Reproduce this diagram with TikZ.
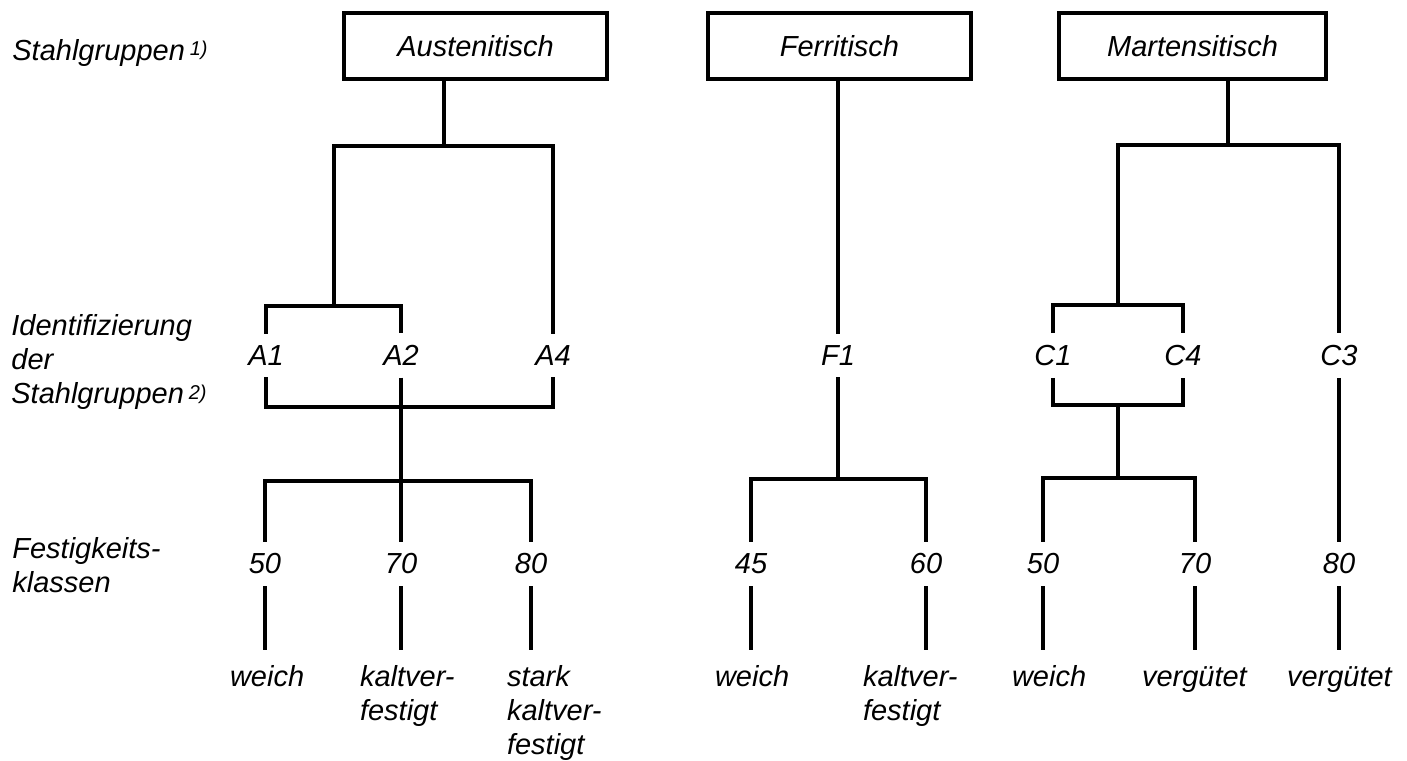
\documentclass[tikz,border=0pt]{standalone}
\usepackage{fontspec}
\setmainfont{Liberation Sans}
\begin{document}
\begin{tikzpicture}[x=0.5pt,y=-0.5pt,
  every node/.style={font=\fontsize{14.5}{17}\selectfont\itshape},
  ln/.style={line width=1.7pt},
  grp/.style={draw, line width=1.7pt, minimum width=131.5pt, minimum height=33pt, inner sep=0pt},
  idnode/.style={inner sep=0pt, outer xsep=0pt, outer ysep=6pt},
  lbl/.style={inner sep=0pt, outer xsep=0pt, outer ysep=7.5pt, anchor=north west, align=left},
  side/.style={inner sep=0pt, align=left}]
\useasboundingbox (0,0) rectangle (1407,760);

% group boxes
\node[grp] (aus) at (475.5,46) {Austenitisch};
\node[grp] (fer) at (839.5,46) {Ferritisch};
\node[grp, minimum width=133.5pt] (mar) at (1192.5,46) {Martensitisch};

% side labels
\node[side, anchor=base west] (s1) at (12,60) {Stahlgruppen\,{\fontsize{10}{12}\selectfont\raisebox{2pt}{1)}}};
\node[side, anchor=north west] (s2) at (11,314) {Identifizierung\\der\\Stahlgruppen\,{\fontsize{10}{12}\selectfont\raisebox{2pt}{2)}}};
\node[side, anchor=north west] (s3) at (12,537) {Festigkeits-\\klassen};

% identifiers
\node[idnode] (A1) at (266,355.5) {A1};
\node[idnode] (A2) at (401,355.5) {A2};
\node[idnode] (A4) at (553,355.5) {A4};
\node[idnode] (F1) at (838,355.5) {F1};
\node[idnode] (C1) at (1053,355.5) {C1};
\node[idnode] (C4) at (1183,355.5) {C4};
\node[idnode] (C3) at (1339,355.5) {C3};

% strength classes
\node[idnode] (a50) at (265,564) {50};
\node[idnode] (a70) at (401,564) {70};
\node[idnode] (a80) at (531,564) {80};
\node[idnode] (f45) at (751,564) {45};
\node[idnode] (f60) at (926,564) {60};
\node[idnode] (m50) at (1043,564) {50};
\node[idnode] (m70) at (1195,564) {70};
\node[idnode] (m80) at (1339,564) {80};

% state labels
\node[lbl] (aw) at (230,650) {weich};
\node[lbl] (ak) at (360,650) {kaltver-\\festigt};
\node[lbl] (as) at (507,650) {stark\\kaltver-\\festigt};
\node[lbl] (fw) at (715,650) {weich};
\node[lbl] (fk) at (863,650) {kaltver-\\festigt};
\node[lbl] (mw) at (1012,650) {weich};
\node[lbl] (mv) at (1142,650) {\vphantom{k}vergütet};
\node[lbl] (mv2) at (1287,650) {\vphantom{k}vergütet};

% junction points
\coordinate (aJ) at (444,146);
\coordinate (aK) at (334,306);
\coordinate (aM) at (401,407);
\coordinate (aN) at (401,481);
\coordinate (fN) at (838,479);
\coordinate (mJ) at (1228,145);
\coordinate (mK) at (1118,305);
\coordinate (mM) at (1118,405);
\coordinate (mN) at (1118,478);

% Austenitisch
\draw[ln] (aus.south -| aJ) -- (aJ);
\draw[ln] (A1.north) |- (aK) -| (A2.north);
\draw[ln] (aK) |- (aJ) -| (A4.north);
\draw[ln] (A1.south) |- (aM) -| (A4.south);
\draw[ln] (A2.south) -- (aN);
\draw[ln] (a50.north) |- (aN) -| (a80.north);
\draw[ln] (aN) -- (a70.north);
\draw[ln] (a50.south) -- (a50.south |- aw.north);
\draw[ln] (a70.south) -- (a70.south |- ak.north);
\draw[ln] (a80.south) -- (a80.south |- as.north);

% Ferritisch
\draw[ln] (F1.north |- fer.south) -- (F1.north);
\draw[ln] (F1.south) -- (fN);
\draw[ln] (f45.north) |- (fN) -| (f60.north);
\draw[ln] (f45.south) -- (f45.south |- fw.north);
\draw[ln] (f60.south) -- (f60.south |- fk.north);

% Martensitisch
\draw[ln] (mar.south -| mJ) -- (mJ);
\draw[ln] (C1.north) |- (mK) -| (C4.north);
\draw[ln] (mK) |- (mJ) -| (C3.north);
\draw[ln] (C1.south) |- (mM) -| (C4.south);
\draw[ln] (mM) -- (mN);
\draw[ln] (m50.north) |- (mN) -| (m70.north);
\draw[ln] (C3.south) -- (m80.north);
\draw[ln] (m50.south) -- (m50.south |- mw.north);
\draw[ln] (m70.south) -- (m70.south |- mv.north);
\draw[ln] (m80.south) -- (m80.south |- mv2.north);
\end{tikzpicture}
\end{document}
